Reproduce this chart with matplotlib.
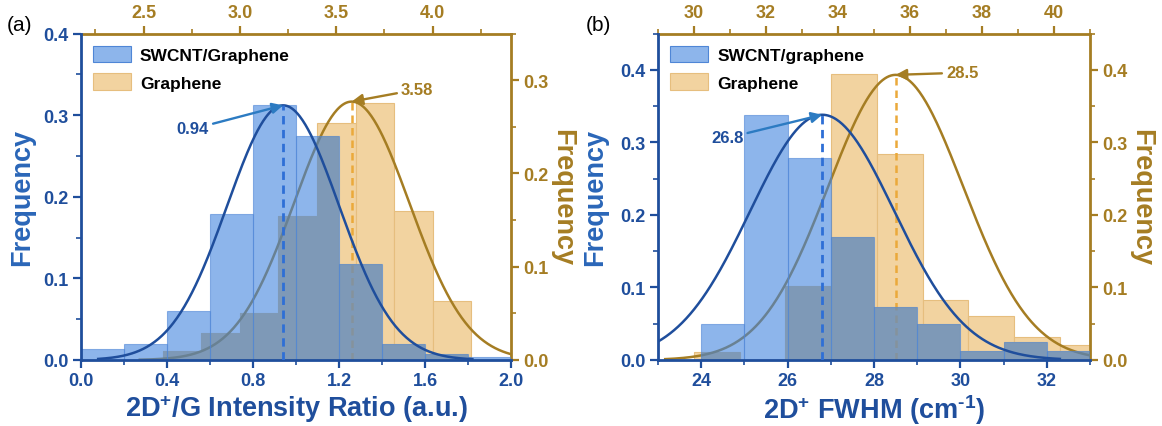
import numpy as np
import matplotlib.pyplot as plt
from matplotlib.ticker import MultipleLocator, FormatStrFormatter
from matplotlib.patches import Rectangle, Patch

plt.rcParams['font.family'] = ['Liberation Sans', 'DejaVu Sans']
plt.rcParams['font.weight'] = 'bold'
plt.rcParams['axes.labelweight'] = 'bold'
plt.rcParams['mathtext.fontset'] = 'custom'
plt.rcParams['mathtext.rm'] = 'Liberation Sans:bold'
plt.rcParams['mathtext.bf'] = 'Liberation Sans:bold'
plt.rcParams['mathtext.default'] = 'bf'

# ---- panel (a): 2D+/G intensity ratio ----
a_cnt_left = [0.0, 0.2, 0.4, 0.6, 0.8, 1.0, 1.2, 1.4, 1.6, 1.8]
a_cnt_freq = [0.013, 0.019, 0.060, 0.179, 0.312, 0.275, 0.118, 0.019, 0.007, 0.004]
a_gr_left = [2.6, 2.8, 3.0, 3.2, 3.4, 3.6, 3.8, 4.0]
a_gr_freq = [0.010, 0.029, 0.050, 0.154, 0.254, 0.276, 0.160, 0.063]
a_cnt_fit = (0.94, 0.26, 0.312)   # mean, sigma, peak
a_gr_fit = (3.58, 0.30, 0.277)

# ---- panel (b): 2D+ FWHM ----
b_cnt_left = [24, 25, 26, 27, 28, 29, 30, 31, 32]
b_cnt_freq = [0.049, 0.338, 0.278, 0.170, 0.073, 0.049, 0.012, 0.025, 0.012]
b_gr_left = [30.0, 31.27, 32.54, 33.81, 35.08, 36.35, 37.62, 38.89, 40.16]
b_gr_freq = [0.011, 0.0, 0.102, 0.394, 0.284, 0.082, 0.061, 0.031, 0.021]
b_cnt_fit = (26.8, 1.67, 0.338)
b_gr_fit = (35.6, 1.88, 0.393)

BLUE_DARK = '#1F4E9C'
BLUE_LABEL = '#2A66B8'
BLUE_FILL = (65 / 255, 132 / 255, 222 / 255)
BLUE_SHOWN = (141 / 255, 181 / 255, 235 / 255)
BLUE_EDGE = '#4F86D6'
BLUE_DASH = '#2E6FD6'
BLUE_ARROW = '#2C7BC2'
OLIVE = '#A57D23'
ORANGE_FILL = '#F2D3A0'
ORANGE_EDGE = '#E6BE7E'
OVERLAP_UNDER = (217 / 255, 185 / 255, 127 / 255)
ORANGE_DASH = '#EBA93A'


def gauss(x, mu, sig, amp):
    return amp * np.exp(-(x - mu) ** 2 / (2 * sig ** 2))


def style_axes(ax, ax2):
    for s in ['top', 'right']:
        ax.spines[s].set_visible(False)
    for s in ['left', 'bottom']:
        ax2.spines[s].set_visible(False)
        ax.spines[s].set_color(BLUE_DARK)
        ax.spines[s].set_linewidth(2)
    for s in ['top', 'right']:
        ax2.spines[s].set_color(OLIVE)
        ax2.spines[s].set_linewidth(2)
    ax.tick_params(which='major', direction='out', length=6, width=1.6, labelsize=13,
                   colors=BLUE_DARK, pad=3)
    ax.tick_params(which='minor', direction='out', length=3.5, width=1.2, colors=BLUE_DARK)
    ax2.xaxis.tick_top()
    ax2.yaxis.tick_right()
    ax2.yaxis.set_label_position('right')
    ax2.tick_params(which='major', direction='out', length=6, width=1.6, labelsize=13,
                    colors=OLIVE, pad=3)
    ax2.tick_params(which='minor', direction='out', length=3.5, width=1.2, colors=OLIVE)


def draw_panel(rect, tag, tag_x, xlim, ylim, xlim2, ylim2,
               cnt_left, cnt_w, cnt_freq, gr_left, gr_w, gr_freq,
               cnt_fit, gr_fit, cnt_span, gr_span,
               xstep, x2step, xfmt, xlabel, names, cnt_note, gr_note, ylpad):
    ax2 = fig.add_axes(rect)
    ax = fig.add_axes(rect)
    ax2.set_zorder(1)
    ax.set_zorder(2)
    ax.patch.set_visible(False)

    ax.set_xlim(*xlim)
    ax.set_ylim(*ylim)
    ax2.set_xlim(*xlim2)
    ax2.set_ylim(*ylim2)

    # graphene histogram (top / right axes)
    ax2.bar(gr_left, gr_freq, gr_w, align='edge', color=ORANGE_FILL,
            edgecolor=ORANGE_EDGE, linewidth=0.8, zorder=1)

    # overlap areas, pre-tinted so the translucent blue on top turns them grey
    kx = (xlim2[1] - xlim2[0]) / (xlim[1] - xlim[0])
    ky = (ylim2[1] - ylim2[0]) / (ylim[1] - ylim[0])
    for l, h in zip(cnt_left, cnt_freq):
        l2 = xlim2[0] + (l - xlim[0]) * kx
        r2 = xlim2[0] + (l + cnt_w - xlim[0]) * kx
        h2 = h * ky
        for gl, gh in zip(gr_left, gr_freq):
            lo, hi = max(l2, gl), min(r2, gl + gr_w)
            top = min(h2, gh)
            if hi > lo and top > 0:
                ax2.add_patch(Rectangle((lo, 0), hi - lo, top, color=OVERLAP_UNDER,
                                        linewidth=0, zorder=2))

    xs2 = np.linspace(gr_span[0], gr_span[1], 400)
    ax2.plot(xs2, gauss(xs2, *gr_fit), color=OLIVE, lw=1.8, zorder=3)
    ax2.plot([gr_fit[0], gr_fit[0]], [0, gr_fit[2]], color=ORANGE_DASH, lw=1.8,
             dashes=(3, 2), zorder=3)

    # SWCNT/graphene histogram (bottom / left axes)
    ax.bar(cnt_left, cnt_freq, cnt_w, align='edge', color=BLUE_FILL, alpha=0.6,
           edgecolor=BLUE_EDGE, linewidth=0.8, zorder=1)
    xs = np.linspace(cnt_span[0], cnt_span[1], 400)
    ax.plot(xs, gauss(xs, *cnt_fit), color=BLUE_DARK, lw=1.8, zorder=3)
    ax.plot([cnt_fit[0], cnt_fit[0]], [0, cnt_fit[2]], color=BLUE_DASH, lw=2,
            dashes=(3, 2), zorder=3)

    ax.annotate(cnt_note[0], xy=(cnt_fit[0], cnt_fit[2]), xytext=cnt_note[1],
                ha='center', va='center', color=BLUE_DARK, fontsize=12, fontweight='bold',
                arrowprops=dict(arrowstyle='-|>', color=BLUE_ARROW, lw=1.7,
                                mutation_scale=16, shrinkA=1, shrinkB=0))
    ax2.annotate(gr_note[0], xy=(gr_fit[0], gr_fit[2]), xytext=gr_note[1],
                 ha='center', va='center', color=OLIVE, fontsize=12, fontweight='bold',
                 arrowprops=dict(arrowstyle='-|>', color=OLIVE, lw=1.7,
                                 mutation_scale=16, shrinkA=1, shrinkB=0))

    style_axes(ax, ax2)
    ax.xaxis.set_major_locator(MultipleLocator(xstep))
    ax.xaxis.set_minor_locator(MultipleLocator(xstep / 2))
    ax.yaxis.set_major_locator(MultipleLocator(0.1))
    ax.yaxis.set_minor_locator(MultipleLocator(0.05))
    ax.yaxis.set_major_formatter(FormatStrFormatter('%.1f'))
    ax.xaxis.set_major_formatter(FormatStrFormatter(xfmt))
    ax2.xaxis.set_major_locator(MultipleLocator(x2step))
    ax2.xaxis.set_minor_locator(MultipleLocator(x2step / 2))
    ax2.yaxis.set_major_locator(MultipleLocator(0.1))
    ax2.yaxis.set_minor_locator(MultipleLocator(0.05))
    ax2.yaxis.set_major_formatter(FormatStrFormatter('%.1f'))
    ax2.xaxis.set_major_formatter(FormatStrFormatter(xfmt))

    ax.set_xlabel(xlabel, fontsize=19.5, color=BLUE_DARK, labelpad=2)
    ax.set_ylabel('Frequency', fontsize=19.5, color=BLUE_LABEL, labelpad=ylpad)
    ax2.set_ylabel('Frequency', fontsize=19.5, color=OLIVE, rotation=270,
                   va='bottom', labelpad=0)

    handles = [Patch(facecolor=BLUE_SHOWN, edgecolor=BLUE_EDGE, linewidth=0.8),
               Patch(facecolor=ORANGE_FILL, edgecolor=ORANGE_EDGE, linewidth=0.8)]
    ax.legend(handles, names, loc='upper left', frameon=False,
              prop={'size': 12.5, 'weight': 'bold'}, handlelength=2.2, handleheight=1.1,
              labelspacing=0.6, handletextpad=0.5, borderaxespad=0.3)

    fig.text(tag_x, 0.962, tag, fontsize=15, fontweight='normal', ha='left', va='top')


fig = plt.figure(figsize=(11.62, 4.27), dpi=100)

draw_panel([0.0697, 0.1546, 0.3701, 0.7646], '(a)', 0.006,
           (0.0, 2.0), (0.0, 0.4), (2.175, 4.407), (0.0, 0.35),
           a_cnt_left, 0.2, a_cnt_freq, a_gr_left, 0.2, a_gr_freq,
           a_cnt_fit, a_gr_fit, (0.08, 1.82), (2.48, 4.407),
           0.4, 0.5, '%.1f', r'2D$^{+}$/G Intensity Ratio (a.u.)',
           ['SWCNT/Graphene', 'Graphene'],
           ('0.94', (0.52, 0.283)), ('3.58', (3.92, 0.29)), 6)

draw_panel([0.5663, 0.1546, 0.3718, 0.7646], '(b)', 0.504,
           (23, 33), (0.0, 0.45), (29, 41), (0.0, 0.45),
           b_cnt_left, 1.0, b_cnt_freq, b_gr_left, 1.27, b_gr_freq,
           b_cnt_fit, b_gr_fit, (23, 32.3), (29.2, 41),
           2, 2, '%d', r'2D$^{+}$ FWHM (cm$^{\text{-}1}$)',
           ['SWCNT/graphene', 'Graphene'],
           ('26.8', (24.6, 0.306)), ('28.5', (37.45, 0.396)), 9)

fig.savefig('out.png', dpi=100)
